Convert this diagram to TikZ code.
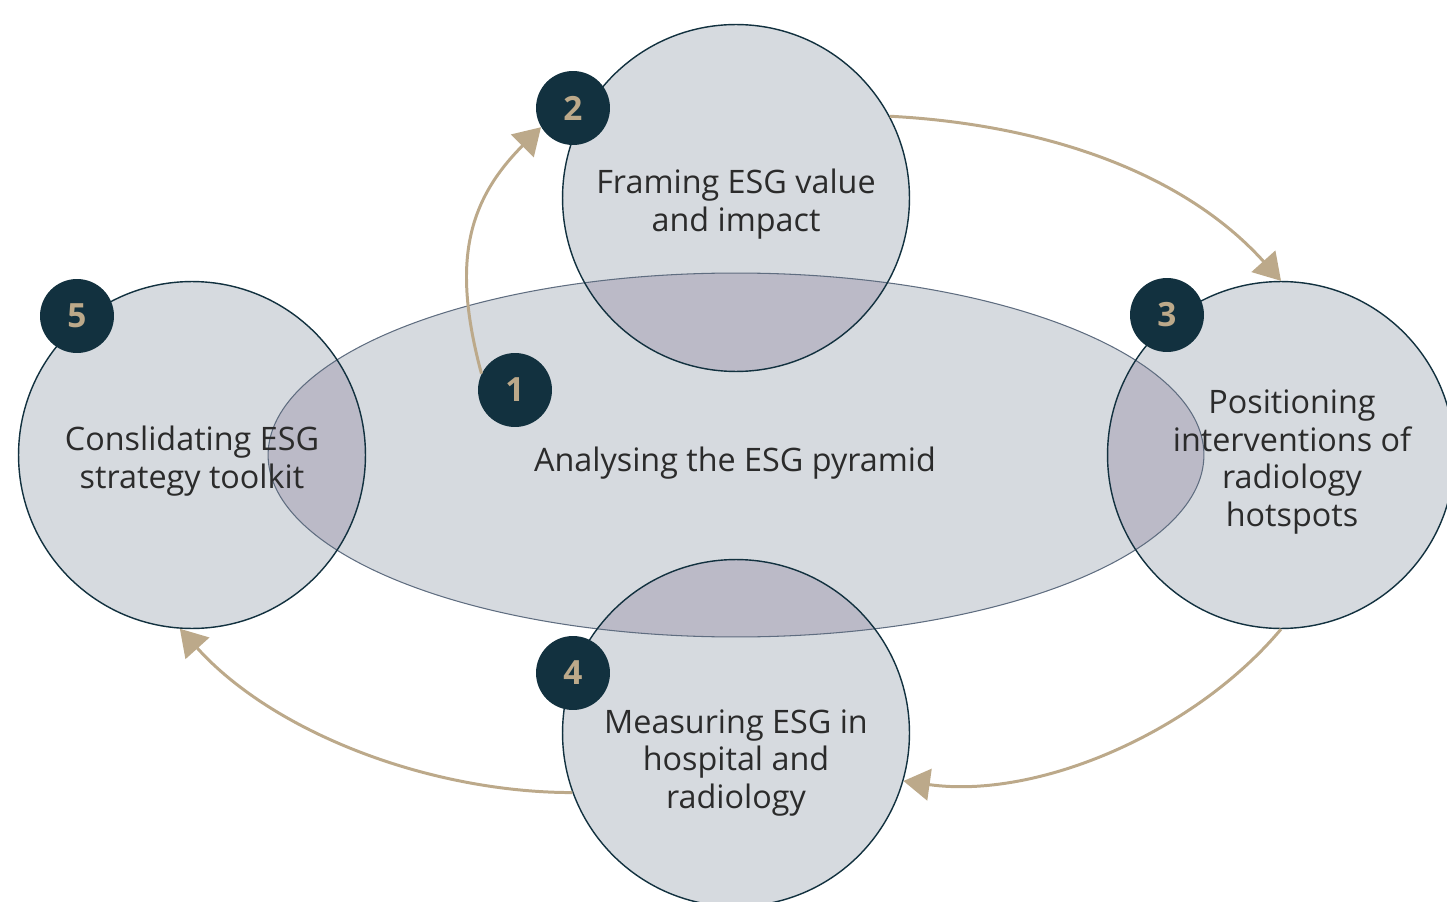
\documentclass[tikz,border=0pt]{standalone}
\usepackage{fontspec}
\setmainfont{Open Sans}
\usepackage{xcolor}
\usetikzlibrary{arrows.meta,shapes.geometric,backgrounds}
\definecolor{navy}{HTML}{12313F}
\definecolor{sand}{HTML}{BCA98A}
\definecolor{pale}{HTML}{D6DADF}
\definecolor{lapcol}{HTML}{BBBAC7}
\definecolor{rim}{HTML}{5F6D80}
\definecolor{ink}{HTML}{2B2B2B}

\begin{document}
\begin{tikzpicture}[x=0.02cm,y=-0.02cm,>={Triangle[length=15pt,width=18pt]},
    big node/.style={circle,draw=navy,line width=0.8pt,minimum size=6.94cm,inner sep=0pt},
    num node/.style={circle,fill=navy,minimum size=1.48cm,inner sep=0pt,text=sand,
        font=\fontsize{19}{19}\selectfont\bfseries},
    txt node/.style={align=center,text=ink,font=\fontsize{18.4}{21.5}\selectfont},
    flow/.style={->,draw=sand,line width=1.7pt}]
\useasboundingbox (0,0) rectangle (1447,902);

\node[ellipse,draw=rim,line width=0.6pt,minimum width=18.72cm,minimum height=7.28cm,
      inner sep=0pt] (ell) at (736,455) {};
\node[big node] (c2) at (736,198) {};
\node[big node] (c3) at (1281,455) {};
\node[big node] (c4) at (736,733) {};
\node[big node] (c5) at (192,455) {};

% fills under the outlines
\begin{pgfonlayer}{background}
  \fill[pale] (ell.center) ellipse [x radius=9.36cm,y radius=3.64cm];
  \foreach \c in {c2,c3,c4,c5}
    \fill[pale] (\c.center) circle [radius=3.47cm];
  \begin{scope}
    \clip (ell.center) ellipse [x radius=9.36cm,y radius=3.64cm];
    \foreach \c in {c2,c3,c4,c5}
      \fill[lapcol] (\c.center) circle [radius=3.47cm];
  \end{scope}
\end{pgfonlayer}

\node[txt node] (t1) at (735,463) {Analysing the ESG pyramid};
\node[txt node] (t2) at (736,204) {Framing ESG value\\and impact};
\node[txt node] (t3) at (1292,462) {Positioning\\interventions of\\radiology\\hotspots};
\node[txt node] (t4) at (736,763) {Measuring ESG in\\hospital and\\radiology};
\node[txt node] (t5) at (192,461) {Conslidating ESG\\strategy toolkit};

\node[num node] (b1) at (515,390) {1};
\node[num node] (b2) at (573,108) {2};
\node[num node] (b3) at (1167,315) {3};
\node[num node] (b4) at (573,673) {4};
\node[num node] (b5) at (77,316) {5};

\draw[flow] (b1.154) to[out=105,in=225,looseness=1.1] (b2.211);
\draw[flow] (c2.28) to[out=-3,in=132,looseness=0.9] (c3.90);
\draw[flow] (c3.270) to[out=230,in=-8,looseness=0.85] (c4.-16);
\draw[flow] (c4.200) to[out=180,in=-48,looseness=0.85] (c5.266);
\end{tikzpicture}
\end{document}
